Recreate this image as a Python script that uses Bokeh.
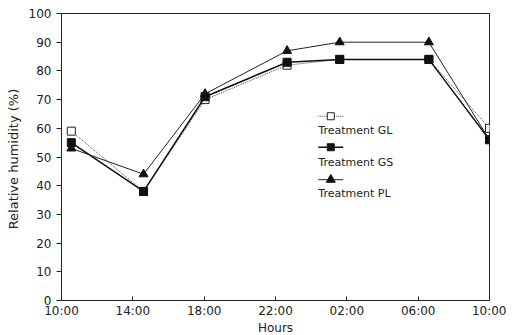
from bokeh.plotting import figure
from bokeh.embed import file_html
from bokeh.resources import INLINE
from bokeh.models import FixedTicker, Range1d
from bokeh.core.properties import value

# hours since 10:00 of sampling
hours = [0.55, 4.6, 8.05, 12.65, 15.6, 20.6, 24.0]
gl = [59, 38, 70, 82, 84, 84, 60]
gs = [55, 38, 71, 83, 84, 84, 56]
pl = [53, 44, 72, 87, 90, 90, 56]

tick_pos = [0, 4, 8, 12, 16, 20, 24]
tick_labels = ["10:00", "14:00", "18:00", "22:00", "02:00", "06:00", "10:00"]
y_ticks = [0, 10, 20, 30, 40, 50, 60, 70, 80, 90, 100]

series_names = ["Treatment GL", "Treatment GS", "Treatment PL"]

FONT = "DejaVu Sans"

p = figure(frame_width=428, frame_height=287, output_backend="svg",
           toolbar_location=None, min_border_left=61, min_border_top=13,
           min_border_right=17, min_border_bottom=2,
           x_range=Range1d(0, 24), y_range=Range1d(0, 100))
p.outline_line_color = "#222222"
p.outline_line_width = 1
p.grid.visible = False

p.xaxis.ticker = FixedTicker(ticks=tick_pos)
p.xaxis.major_label_overrides = {t: l for t, l in zip(tick_pos, tick_labels)}
p.yaxis.ticker = FixedTicker(ticks=y_ticks)
p.xaxis.axis_label = "Hours"
p.yaxis.axis_label = "Relative humidity  (%)"
for ax in (p.xaxis, p.yaxis):
    ax.axis_line_color = "#222222"
    ax.major_tick_line_color = "#222222"
    ax.minor_tick_line_color = None
    ax.major_label_text_font = FONT
    ax.major_label_text_font_size = "12px"
    ax.major_label_text_color = "#222222"
    ax.axis_label_text_font = FONT
    ax.axis_label_text_font_size = "12px"
    ax.axis_label_text_font_style = "normal"
    ax.axis_label_text_color = "#222222"
p.yaxis.axis_label_text_font_size = "13px"
p.xaxis.major_tick_in = 4
p.xaxis.major_tick_out = 0
p.yaxis.major_tick_in = 0
p.yaxis.major_tick_out = 5
p.xaxis.major_label_standoff = 3
p.xaxis.axis_label_standoff = 0
p.yaxis.axis_label_standoff = 5

# series
p.line(hours, gl, line_color="#444444", line_width=1, line_dash="1 1")
p.scatter(hours, gl, marker="square", size=8, fill_color="white", line_color="#222222")
p.line(hours, gs, line_color="#111111", line_width=1.5)
p.scatter(hours, gs, marker="square", size=8, fill_color="#111111", line_color="#111111")
p.line(hours, pl, line_color="#222222", line_width=1)
p.scatter(hours, pl, marker="triangle", size=9, fill_color="#111111", line_color="#111111")

# legend (glyph above label)
lx0, lx1, lxc = 14.4, 15.8, 15.1
glyph_y = [64.2, 53.4, 42.1]
label_y = [59.2, 48.1, 37.2]
p.line([lx0, lx1], [glyph_y[0]] * 2, line_color="#444444", line_width=1, line_dash="1 1")
p.scatter([lxc], [glyph_y[0]], marker="square", size=7, fill_color="white", line_color="#222222")
p.line([lx0, lx1], [glyph_y[1]] * 2, line_color="#111111", line_width=1.5)
p.scatter([lxc], [glyph_y[1]], marker="square", size=7, fill_color="#111111", line_color="#111111")
p.line([lx0, lx1], [glyph_y[2]] * 2, line_color="#222222", line_width=1)
p.scatter([lxc], [glyph_y[2]], marker="triangle", size=9, fill_color="#111111", line_color="#111111")
p.text([lx0] * 3, label_y, text=series_names, text_font=value(FONT),
       text_font_size="11px", text_baseline="middle", text_align="left",
       text_color="#222222")

open("out.html", "w").write(file_html(p, INLINE))
